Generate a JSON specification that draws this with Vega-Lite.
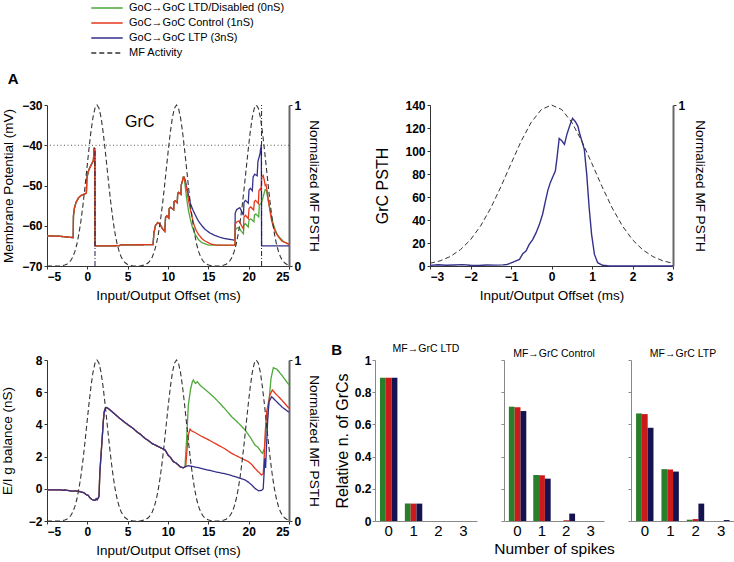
{
"$schema": "https://vega.github.io/schema/vega-lite/v6.json",
"padding": {"left": 0, "top": 2, "right": 1, "bottom": 1},
"config": {
  "font": "Liberation Sans",
  "view": {"stroke": null},
  "axis": {"grid": false, "labelFont": "Liberation Sans", "labelFontSize": 12, "labelFontWeight": "bold", "labelColor": "#000", "titleFont": "Liberation Sans", "titleFontSize": 13.5, "titleFontWeight": "normal", "titleColor": "#000", "tickSize": 3, "tickColor": "#333", "domainColor": "#333", "labelPadding": 2},
  "title": {"font": "Liberation Sans", "color": "#000"}
},
"datasets": {
  "mem": [
    {"t":-5,"v":-62.5,"s":"LTP"},{"t":-3.5,"v":-62.6,"s":"LTP"},{"t":-1.75,"v":-62.95,"s":"LTP"},{"t":-1.72,"v":-57.5,"s":"LTP"},{"t":-1.6,"v":-55.6,"s":"LTP"},{"t":-1.4,"v":-54.2,"s":"LTP"},{"t":-1.1,"v":-53.1,"s":"LTP"},{"t":-0.8,"v":-52.5,"s":"LTP"},{"t":-0.45,"v":-52.2,"s":"LTP"},{"t":-0.12,"v":-51.9,"s":"LTP"},{"t":-0.06,"v":-48.3,"s":"LTP"},{"t":0.1,"v":-46.6,"s":"LTP"},{"t":0.3,"v":-45.6,"s":"LTP"},{"t":0.55,"v":-44.6,"s":"LTP"},{"t":0.75,"v":-43.8,"s":"LTP"},{"t":0.8,"v":-42.2,"s":"LTP"},{"t":0.84,"v":-40.6,"s":"LTP"},{"t":0.92,"v":-41.2,"s":"LTP"},{"t":0.95,"v":-65.0,"s":"LTP"},{"t":2.5,"v":-65.0,"s":"LTP"},{"t":4.0,"v":-64.95,"s":"LTP"},{"t":4.1,"v":-64.75,"s":"LTP"},{"t":8.15,"v":-64.7,"s":"LTP"},{"t":8.25,"v":-61.8,"s":"LTP"},{"t":8.45,"v":-59.9,"s":"LTP"},{"t":8.75,"v":-59.2,"s":"LTP"},{"t":9.0,"v":-59.6,"s":"LTP"},{"t":9.3,"v":-60.7,"s":"LTP"},{"t":9.6,"v":-61.4,"s":"LTP"},{"t":9.7,"v":-57.9,"s":"LTP"},{"t":9.85,"v":-57.5,"s":"LTP"},{"t":10.1,"v":-58.1,"s":"LTP"},{"t":10.15,"v":-55.7,"s":"LTP"},{"t":10.3,"v":-55.4,"s":"LTP"},{"t":10.7,"v":-56.0,"s":"LTP"},{"t":10.75,"v":-54.0,"s":"LTP"},{"t":10.9,"v":-53.8,"s":"LTP"},{"t":11.15,"v":-54.3,"s":"LTP"},{"t":11.2,"v":-52.0,"s":"LTP"},{"t":11.3,"v":-51.7,"s":"LTP"},{"t":11.6,"v":-52.2,"s":"LTP"},{"t":11.65,"v":-49.8,"s":"LTP"},{"t":11.75,"v":-49.2,"s":"LTP"},{"t":11.9,"v":-47.9,"s":"LTP"},{"t":12.0,"v":-47.9,"s":"LTP"},
    {"t":12.15,"v":-48.8,"s":"LTP"},{"t":12.3,"v":-50.3,"s":"LTP"},{"t":12.52,"v":-52.2,"s":"LTP"},{"t":12.8,"v":-54.6,"s":"LTP"},{"t":13.14,"v":-56.3,"s":"LTP"},{"t":13.5,"v":-57.8,"s":"LTP"},{"t":13.76,"v":-58.8,"s":"LTP"},{"t":14.2,"v":-60.0,"s":"LTP"},{"t":14.6,"v":-60.9,"s":"LTP"},{"t":15.2,"v":-61.8,"s":"LTP"},{"t":15.8,"v":-62.4,"s":"LTP"},{"t":16.5,"v":-62.9,"s":"LTP"},{"t":17.1,"v":-63.2,"s":"LTP"},{"t":18.3,"v":-63.6,"s":"LTP"},{"t":18.33,"v":-56.9,"s":"LTP"},{"t":18.5,"v":-56.0,"s":"LTP"},{"t":18.9,"v":-55.5,"s":"LTP"},{"t":19.15,"v":-56.5,"s":"LTP"},{"t":19.35,"v":-57.4,"s":"LTP"},{"t":19.42,"v":-54.2,"s":"LTP"},{"t":19.6,"v":-53.7,"s":"LTP"},{"t":19.95,"v":-54.4,"s":"LTP"},{"t":20.04,"v":-51.1,"s":"LTP"},{"t":20.2,"v":-50.7,"s":"LTP"},{"t":20.45,"v":-51.3,"s":"LTP"},{"t":20.55,"v":-47.9,"s":"LTP"},{"t":20.75,"v":-47.2,"s":"LTP"},{"t":21.05,"v":-47.6,"s":"LTP"},{"t":21.15,"v":-44.0,"s":"LTP"},{"t":21.3,"v":-42.9,"s":"LTP"},{"t":21.42,"v":-42.0,"s":"LTP"},{"t":21.47,"v":-41.0,"s":"LTP"},{"t":21.57,"v":-40.2,"s":"LTP"},{"t":21.6,"v":-65.0,"s":"LTP"},{"t":25,"v":-65.0,"s":"LTP"},

    {"t":-5,"v":-62.5,"s":"LTD"},{"t":-3.5,"v":-62.6,"s":"LTD"},{"t":-1.75,"v":-62.95,"s":"LTD"},{"t":-1.72,"v":-57.5,"s":"LTD"},{"t":-1.6,"v":-55.6,"s":"LTD"},{"t":-1.4,"v":-54.2,"s":"LTD"},{"t":-1.1,"v":-53.1,"s":"LTD"},{"t":-0.8,"v":-52.5,"s":"LTD"},{"t":-0.45,"v":-52.2,"s":"LTD"},{"t":-0.12,"v":-51.9,"s":"LTD"},{"t":-0.06,"v":-48.3,"s":"LTD"},{"t":0.1,"v":-46.6,"s":"LTD"},{"t":0.3,"v":-45.6,"s":"LTD"},{"t":0.55,"v":-44.6,"s":"LTD"},{"t":0.75,"v":-43.8,"s":"LTD"},{"t":0.8,"v":-42.2,"s":"LTD"},{"t":0.84,"v":-40.6,"s":"LTD"},{"t":0.92,"v":-41.2,"s":"LTD"},{"t":0.95,"v":-65.0,"s":"LTD"},{"t":2.5,"v":-65.0,"s":"LTD"},{"t":4.0,"v":-64.95,"s":"LTD"},{"t":4.1,"v":-64.75,"s":"LTD"},{"t":8.15,"v":-64.7,"s":"LTD"},{"t":8.25,"v":-61.8,"s":"LTD"},{"t":8.45,"v":-59.9,"s":"LTD"},{"t":8.75,"v":-59.2,"s":"LTD"},{"t":9.0,"v":-59.6,"s":"LTD"},{"t":9.3,"v":-60.7,"s":"LTD"},{"t":9.6,"v":-61.4,"s":"LTD"},{"t":9.7,"v":-57.9,"s":"LTD"},{"t":9.85,"v":-57.5,"s":"LTD"},{"t":10.1,"v":-58.1,"s":"LTD"},{"t":10.15,"v":-55.7,"s":"LTD"},{"t":10.3,"v":-55.4,"s":"LTD"},{"t":10.7,"v":-56.0,"s":"LTD"},{"t":10.75,"v":-54.0,"s":"LTD"},{"t":10.9,"v":-53.8,"s":"LTD"},{"t":11.15,"v":-54.3,"s":"LTD"},{"t":11.2,"v":-52.0,"s":"LTD"},{"t":11.3,"v":-51.7,"s":"LTD"},{"t":11.6,"v":-52.2,"s":"LTD"},{"t":11.65,"v":-49.8,"s":"LTD"},{"t":11.75,"v":-49.2,"s":"LTD"},{"t":11.9,"v":-47.9,"s":"LTD"},{"t":12.0,"v":-47.9,"s":"LTD"},
    {"t":12.15,"v":-50.5,"s":"LTD"},{"t":12.3,"v":-53.0,"s":"LTD"},{"t":12.5,"v":-55.8,"s":"LTD"},{"t":12.75,"v":-58.2,"s":"LTD"},{"t":13.0,"v":-60.2,"s":"LTD"},{"t":13.35,"v":-62.1,"s":"LTD"},{"t":13.8,"v":-63.5,"s":"LTD"},{"t":14.2,"v":-64.2,"s":"LTD"},{"t":15.0,"v":-64.8,"s":"LTD"},{"t":18.3,"v":-64.9,"s":"LTD"},{"t":18.33,"v":-61.0,"s":"LTD"},{"t":18.6,"v":-60.5,"s":"LTD"},{"t":18.85,"v":-60.6,"s":"LTD"},{"t":19.1,"v":-61.4,"s":"LTD"},{"t":19.35,"v":-62.0,"s":"LTD"},{"t":19.42,"v":-59.8,"s":"LTD"},{"t":19.6,"v":-59.5,"s":"LTD"},{"t":19.95,"v":-60.3,"s":"LTD"},{"t":20.05,"v":-58.5,"s":"LTD"},{"t":20.25,"v":-58.3,"s":"LTD"},{"t":20.65,"v":-59.0,"s":"LTD"},{"t":20.72,"v":-57.3,"s":"LTD"},{"t":20.9,"v":-57.1,"s":"LTD"},{"t":21.25,"v":-57.8,"s":"LTD"},{"t":21.32,"v":-54.8,"s":"LTD"},{"t":21.55,"v":-54.4,"s":"LTD"},{"t":21.7,"v":-53.6,"s":"LTD"},{"t":21.85,"v":-52.4,"s":"LTD"},{"t":22.05,"v":-51.0,"s":"LTD"},{"t":22.2,"v":-51.2,"s":"LTD"},{"t":22.45,"v":-54.0,"s":"LTD"},{"t":22.75,"v":-57.0,"s":"LTD"},{"t":23.05,"v":-59.6,"s":"LTD"},{"t":23.4,"v":-61.6,"s":"LTD"},{"t":23.7,"v":-62.6,"s":"LTD"},{"t":24.3,"v":-63.9,"s":"LTD"},{"t":25,"v":-64.6,"s":"LTD"},

    {"t":-5,"v":-62.5,"s":"CTRL"},{"t":-3.5,"v":-62.6,"s":"CTRL"},{"t":-1.75,"v":-62.95,"s":"CTRL"},{"t":-1.72,"v":-57.5,"s":"CTRL"},{"t":-1.6,"v":-55.6,"s":"CTRL"},{"t":-1.4,"v":-54.2,"s":"CTRL"},{"t":-1.1,"v":-53.1,"s":"CTRL"},{"t":-0.8,"v":-52.5,"s":"CTRL"},{"t":-0.45,"v":-52.2,"s":"CTRL"},{"t":-0.12,"v":-51.9,"s":"CTRL"},{"t":-0.06,"v":-48.3,"s":"CTRL"},{"t":0.1,"v":-46.6,"s":"CTRL"},{"t":0.3,"v":-45.6,"s":"CTRL"},{"t":0.55,"v":-44.6,"s":"CTRL"},{"t":0.75,"v":-43.8,"s":"CTRL"},{"t":0.8,"v":-42.2,"s":"CTRL"},{"t":0.84,"v":-40.6,"s":"CTRL"},{"t":0.92,"v":-41.2,"s":"CTRL"},{"t":0.95,"v":-65.0,"s":"CTRL"},{"t":2.5,"v":-65.0,"s":"CTRL"},{"t":4.0,"v":-64.95,"s":"CTRL"},{"t":4.1,"v":-64.75,"s":"CTRL"},{"t":8.15,"v":-64.7,"s":"CTRL"},{"t":8.25,"v":-61.8,"s":"CTRL"},{"t":8.45,"v":-59.9,"s":"CTRL"},{"t":8.75,"v":-59.2,"s":"CTRL"},{"t":9.0,"v":-59.6,"s":"CTRL"},{"t":9.3,"v":-60.7,"s":"CTRL"},{"t":9.6,"v":-61.4,"s":"CTRL"},{"t":9.7,"v":-57.9,"s":"CTRL"},{"t":9.85,"v":-57.5,"s":"CTRL"},{"t":10.1,"v":-58.1,"s":"CTRL"},{"t":10.15,"v":-55.7,"s":"CTRL"},{"t":10.3,"v":-55.4,"s":"CTRL"},{"t":10.7,"v":-56.0,"s":"CTRL"},{"t":10.75,"v":-54.0,"s":"CTRL"},{"t":10.9,"v":-53.8,"s":"CTRL"},{"t":11.15,"v":-54.3,"s":"CTRL"},{"t":11.2,"v":-52.0,"s":"CTRL"},{"t":11.3,"v":-51.7,"s":"CTRL"},{"t":11.6,"v":-52.2,"s":"CTRL"},{"t":11.65,"v":-49.8,"s":"CTRL"},{"t":11.75,"v":-49.2,"s":"CTRL"},{"t":11.9,"v":-47.9,"s":"CTRL"},{"t":12.0,"v":-47.9,"s":"CTRL"},
    {"t":12.15,"v":-49.3,"s":"CTRL"},{"t":12.35,"v":-51.3,"s":"CTRL"},{"t":12.55,"v":-53.8,"s":"CTRL"},{"t":12.75,"v":-55.7,"s":"CTRL"},{"t":13.0,"v":-58.0,"s":"CTRL"},{"t":13.2,"v":-59.6,"s":"CTRL"},{"t":13.5,"v":-61.2,"s":"CTRL"},{"t":13.8,"v":-62.2,"s":"CTRL"},{"t":14.2,"v":-63.2,"s":"CTRL"},{"t":14.6,"v":-63.8,"s":"CTRL"},{"t":15.4,"v":-64.6,"s":"CTRL"},{"t":16.0,"v":-64.8,"s":"CTRL"},{"t":18.3,"v":-64.8,"s":"CTRL"},{"t":18.33,"v":-59.6,"s":"CTRL"},{"t":18.55,"v":-59.0,"s":"CTRL"},{"t":18.8,"v":-58.8,"s":"CTRL"},{"t":19.1,"v":-59.9,"s":"CTRL"},{"t":19.35,"v":-60.8,"s":"CTRL"},{"t":19.42,"v":-57.8,"s":"CTRL"},{"t":19.6,"v":-57.4,"s":"CTRL"},{"t":19.95,"v":-58.2,"s":"CTRL"},{"t":20.05,"v":-55.7,"s":"CTRL"},{"t":20.25,"v":-55.3,"s":"CTRL"},{"t":20.62,"v":-56.1,"s":"CTRL"},{"t":20.7,"v":-54.0,"s":"CTRL"},{"t":20.85,"v":-53.7,"s":"CTRL"},{"t":21.2,"v":-54.5,"s":"CTRL"},{"t":21.28,"v":-51.2,"s":"CTRL"},{"t":21.45,"v":-50.8,"s":"CTRL"},{"t":21.55,"v":-51.3,"s":"CTRL"},{"t":21.62,"v":-48.0,"s":"CTRL"},{"t":21.8,"v":-47.5,"s":"CTRL"},{"t":21.95,"v":-48.8,"s":"CTRL"},{"t":22.05,"v":-50.0,"s":"CTRL"},{"t":22.15,"v":-49.8,"s":"CTRL"},{"t":22.3,"v":-51.5,"s":"CTRL"},{"t":22.45,"v":-53.9,"s":"CTRL"},{"t":22.85,"v":-58.8,"s":"CTRL"},{"t":23.2,"v":-61.0,"s":"CTRL"},{"t":23.5,"v":-62.2,"s":"CTRL"},{"t":24.1,"v":-63.8,"s":"CTRL"},{"t":25,"v":-64.6,"s":"CTRL"}
  ],
  "mf": [
    {"t":-5,"m":0},{"t":-3.3,"m":0},{"t":-2.8,"m":0.006},{"t":-2.55,"m":0.011},{"t":-2.3,"m":0.02},{"t":-2.05,"m":0.034},{"t":-1.8,"m":0.056},{"t":-1.55,"m":0.089},{"t":-1.3,"m":0.135},{"t":-1.05,"m":0.198},{"t":-0.8,"m":0.278},{"t":-0.55,"m":0.375},{"t":-0.3,"m":0.487},{"t":-0.05,"m":0.607},{"t":0.2,"m":0.726},{"t":0.45,"m":0.835},{"t":0.7,"m":0.923},{"t":0.95,"m":0.98},{"t":1.2,"m":1},{"t":1.45,"m":0.98},{"t":1.7,"m":0.923},{"t":1.95,"m":0.835},{"t":2.2,"m":0.726},{"t":2.45,"m":0.607},{"t":2.7,"m":0.487},{"t":2.95,"m":0.375},{"t":3.2,"m":0.278},{"t":3.45,"m":0.198},{"t":3.7,"m":0.135},{"t":3.95,"m":0.089},{"t":4.2,"m":0.056},{"t":4.45,"m":0.034},{"t":4.7,"m":0.02},{"t":4.95,"m":0.011},{"t":5.2,"m":0.006},{"t":5.7,"m":0},
    {"t":6.55,"m":0},{"t":7.05,"m":0.006},{"t":7.3,"m":0.011},{"t":7.55,"m":0.02},{"t":7.8,"m":0.034},{"t":8.05,"m":0.056},{"t":8.3,"m":0.089},{"t":8.55,"m":0.135},{"t":8.8,"m":0.198},{"t":9.05,"m":0.278},{"t":9.3,"m":0.375},{"t":9.55,"m":0.487},{"t":9.8,"m":0.607},{"t":10.05,"m":0.726},{"t":10.3,"m":0.835},{"t":10.55,"m":0.923},{"t":10.8,"m":0.98},{"t":11.05,"m":1},{"t":11.3,"m":0.98},{"t":11.55,"m":0.923},{"t":11.8,"m":0.835},{"t":12.05,"m":0.726},{"t":12.3,"m":0.607},{"t":12.55,"m":0.487},{"t":12.8,"m":0.375},{"t":13.05,"m":0.278},{"t":13.3,"m":0.198},{"t":13.55,"m":0.135},{"t":13.8,"m":0.089},{"t":14.05,"m":0.056},{"t":14.3,"m":0.034},{"t":14.55,"m":0.02},{"t":14.8,"m":0.011},{"t":15.05,"m":0.006},{"t":15.55,"m":0},
    {"t":16.45,"m":0},{"t":16.95,"m":0.006},{"t":17.2,"m":0.011},{"t":17.45,"m":0.02},{"t":17.7,"m":0.034},{"t":17.95,"m":0.056},{"t":18.2,"m":0.089},{"t":18.45,"m":0.135},{"t":18.7,"m":0.198},{"t":18.95,"m":0.278},{"t":19.2,"m":0.375},{"t":19.45,"m":0.487},{"t":19.7,"m":0.607},{"t":19.95,"m":0.726},{"t":20.2,"m":0.835},{"t":20.45,"m":0.923},{"t":20.7,"m":0.98},{"t":20.95,"m":1},{"t":21.2,"m":0.98},{"t":21.45,"m":0.923},{"t":21.7,"m":0.835},{"t":21.95,"m":0.726},{"t":22.2,"m":0.607},{"t":22.45,"m":0.487},{"t":22.7,"m":0.375},{"t":22.95,"m":0.278},{"t":23.2,"m":0.198},{"t":23.45,"m":0.135},{"t":23.7,"m":0.089},{"t":23.95,"m":0.056},{"t":24.2,"m":0.034},{"t":24.45,"m":0.02},{"t":24.7,"m":0.011},{"t":24.95,"m":0.006},{"t":25,"m":0.005}
  ],
  "psth": [
    {"t":-3,"v":0.5},{"t":-2.8,"v":1.1},{"t":-2.6,"v":0.6},{"t":-2.4,"v":0.9},{"t":-2.2,"v":1.2},{"t":-2.0,"v":0.7},{"t":-1.8,"v":0.5},{"t":-1.6,"v":0.9},{"t":-1.4,"v":0.8},{"t":-1.2,"v":1.0},{"t":-1.1,"v":1.3},{"t":-1.04,"v":2},{"t":-0.92,"v":3.8},{"t":-0.79,"v":5.8},{"t":-0.71,"v":10.7},{"t":-0.63,"v":13},{"t":-0.55,"v":18.8},{"t":-0.465,"v":23},{"t":-0.38,"v":29},{"t":-0.3,"v":36},{"t":-0.22,"v":45},{"t":-0.15,"v":56.5},{"t":-0.09,"v":65.8},{"t":-0.03,"v":72.5},{"t":0.03,"v":77.4},{"t":0.095,"v":82.6},{"t":0.136,"v":94},{"t":0.19,"v":111},{"t":0.26,"v":108.7},{"t":0.32,"v":105.8},{"t":0.38,"v":114.5},{"t":0.46,"v":123},{"t":0.52,"v":128.4},{"t":0.59,"v":125.5},{"t":0.65,"v":121.7},{"t":0.7,"v":114.5},{"t":0.75,"v":108.7},{"t":0.81,"v":101.4},{"t":0.87,"v":79.7},{"t":0.93,"v":50.7},{"t":0.99,"v":27.5},{"t":1.06,"v":10.1},{"t":1.14,"v":2.9},{"t":1.26,"v":0.6},{"t":1.43,"v":0},{"t":3,"v":0}
  ],
  "mf2": [
    {"t":-3,"m":0.017},{"t":-2.75,"m":0.032},{"t":-2.5,"m":0.059},{"t":-2.25,"m":0.101},{"t":-2,"m":0.163},{"t":-1.75,"m":0.249},{"t":-1.5,"m":0.36},{"t":-1.25,"m":0.492},{"t":-1,"m":0.635},{"t":-0.75,"m":0.775},{"t":-0.5,"m":0.893},{"t":-0.25,"m":0.972},{"t":0,"m":1},{"t":0.25,"m":0.972},{"t":0.5,"m":0.893},{"t":0.75,"m":0.775},{"t":1,"m":0.635},{"t":1.25,"m":0.492},{"t":1.5,"m":0.36},{"t":1.75,"m":0.249},{"t":2,"m":0.163},{"t":2.25,"m":0.101},{"t":2.5,"m":0.059},{"t":2.75,"m":0.032},{"t":3,"m":0.017}
  ],
  "ei": [
    {"t":-5,"v":-0.07,"s":"LTD"},{"t":-3.3,"v":-0.07,"s":"LTD"},{"t":-2.9,"v":-0.1,"s":"LTD"},{"t":-2.8,"v":-0.07,"s":"LTD"},{"t":-2.2,"v":-0.12,"s":"LTD"},{"t":-1.9,"v":-0.15,"s":"LTD"},{"t":-1.5,"v":-0.13,"s":"LTD"},{"t":-1.1,"v":-0.16,"s":"LTD"},{"t":-0.7,"v":-0.2,"s":"LTD"},{"t":-0.4,"v":-0.25,"s":"LTD"},{"t":-0.1,"v":-0.38,"s":"LTD"},{"t":0.1,"v":-0.4,"s":"LTD"},{"t":0.3,"v":-0.55,"s":"LTD"},{"t":0.55,"v":-0.65,"s":"LTD"},{"t":0.75,"v":-0.7,"s":"LTD"},{"t":0.95,"v":-0.72,"s":"LTD"},{"t":1.1,"v":-0.62,"s":"LTD"},{"t":1.2,"v":-0.68,"s":"LTD"},{"t":1.35,"v":-0.58,"s":"LTD"},{"t":1.45,"v":-0.45,"s":"LTD"},{"t":1.55,"v":1.0,"s":"LTD"},{"t":1.7,"v":2.1,"s":"LTD"},{"t":1.85,"v":3.2,"s":"LTD"},{"t":1.98,"v":4.2,"s":"LTD"},{"t":2.1,"v":4.8,"s":"LTD"},{"t":2.25,"v":5.02,"s":"LTD"},{"t":2.4,"v":5.05,"s":"LTD"},{"t":2.6,"v":4.98,"s":"LTD"},{"t":3.0,"v":4.82,"s":"LTD"},{"t":3.5,"v":4.6,"s":"LTD"},{"t":4.0,"v":4.38,"s":"LTD"},{"t":4.5,"v":4.18,"s":"LTD"},{"t":5.08,"v":3.96,"s":"LTD"},{"t":5.6,"v":3.78,"s":"LTD"},{"t":6.2,"v":3.52,"s":"LTD"},{"t":6.6,"v":3.38,"s":"LTD"},{"t":7.15,"v":3.13,"s":"LTD"},{"t":7.6,"v":2.98,"s":"LTD"},{"t":8.0,"v":2.82,"s":"LTD"},{"t":8.5,"v":2.7,"s":"LTD"},{"t":8.8,"v":2.62,"s":"LTD"},{"t":9.3,"v":2.5,"s":"LTD"},{"t":9.63,"v":2.41,"s":"LTD"},{"t":9.75,"v":2.32,"s":"LTD"},{"t":10.0,"v":2.1,"s":"LTD"},{"t":10.3,"v":1.95,"s":"LTD"},{"t":10.66,"v":1.69,"s":"LTD"},{"t":11.0,"v":1.6,"s":"LTD"},{"t":11.28,"v":1.48,"s":"LTD"},{"t":11.55,"v":1.35,"s":"LTD"},{"t":11.9,"v":1.31,"s":"LTD"},{"t":12.1,"v":1.36,"s":"LTD"},
    {"t":12.3,"v":3.0,"s":"LTD"},{"t":12.52,"v":5.2,"s":"LTD"},{"t":12.8,"v":6.2,"s":"LTD"},{"t":13.02,"v":6.65,"s":"LTD"},{"t":13.14,"v":6.76,"s":"LTD"},{"t":13.3,"v":6.6,"s":"LTD"},{"t":13.43,"v":6.55,"s":"LTD"},{"t":13.64,"v":6.65,"s":"LTD"},{"t":14.0,"v":6.42,"s":"LTD"},{"t":15.0,"v":6.0,"s":"LTD"},{"t":15.83,"v":5.62,"s":"LTD"},{"t":17.0,"v":5.0,"s":"LTD"},{"t":17.89,"v":4.48,"s":"LTD"},{"t":18.8,"v":4.05,"s":"LTD"},{"t":19.55,"v":3.65,"s":"LTD"},{"t":20.2,"v":3.2,"s":"LTD"},{"t":20.78,"v":2.72,"s":"LTD"},{"t":21.1,"v":2.6,"s":"LTD"},{"t":21.4,"v":2.41,"s":"LTD"},{"t":21.6,"v":2.25,"s":"LTD"},{"t":21.74,"v":2.2,"s":"LTD"},{"t":21.94,"v":2.51,"s":"LTD"},{"t":22.15,"v":3.55,"s":"LTD"},{"t":22.44,"v":5.0,"s":"LTD"},{"t":22.77,"v":6.86,"s":"LTD"},{"t":23.06,"v":7.52,"s":"LTD"},{"t":23.47,"v":7.44,"s":"LTD"},{"t":24.09,"v":7.07,"s":"LTD"},{"t":25,"v":6.45,"s":"LTD"},

    {"t":-5,"v":-0.07,"s":"CTRL"},{"t":-3.3,"v":-0.07,"s":"CTRL"},{"t":-2.9,"v":-0.1,"s":"CTRL"},{"t":-2.8,"v":-0.07,"s":"CTRL"},{"t":-2.2,"v":-0.12,"s":"CTRL"},{"t":-1.9,"v":-0.15,"s":"CTRL"},{"t":-1.5,"v":-0.13,"s":"CTRL"},{"t":-1.1,"v":-0.16,"s":"CTRL"},{"t":-0.7,"v":-0.2,"s":"CTRL"},{"t":-0.4,"v":-0.25,"s":"CTRL"},{"t":-0.1,"v":-0.38,"s":"CTRL"},{"t":0.1,"v":-0.4,"s":"CTRL"},{"t":0.3,"v":-0.55,"s":"CTRL"},{"t":0.55,"v":-0.65,"s":"CTRL"},{"t":0.75,"v":-0.7,"s":"CTRL"},{"t":0.95,"v":-0.72,"s":"CTRL"},{"t":1.1,"v":-0.62,"s":"CTRL"},{"t":1.2,"v":-0.68,"s":"CTRL"},{"t":1.35,"v":-0.58,"s":"CTRL"},{"t":1.45,"v":-0.45,"s":"CTRL"},{"t":1.55,"v":1.0,"s":"CTRL"},{"t":1.7,"v":2.1,"s":"CTRL"},{"t":1.85,"v":3.2,"s":"CTRL"},{"t":1.98,"v":4.2,"s":"CTRL"},{"t":2.1,"v":4.8,"s":"CTRL"},{"t":2.25,"v":5.02,"s":"CTRL"},{"t":2.4,"v":5.05,"s":"CTRL"},{"t":2.6,"v":4.98,"s":"CTRL"},{"t":3.0,"v":4.82,"s":"CTRL"},{"t":3.5,"v":4.6,"s":"CTRL"},{"t":4.0,"v":4.38,"s":"CTRL"},{"t":4.5,"v":4.18,"s":"CTRL"},{"t":5.08,"v":3.96,"s":"CTRL"},{"t":5.6,"v":3.78,"s":"CTRL"},{"t":6.2,"v":3.52,"s":"CTRL"},{"t":6.6,"v":3.38,"s":"CTRL"},{"t":7.15,"v":3.13,"s":"CTRL"},{"t":7.6,"v":2.98,"s":"CTRL"},{"t":8.0,"v":2.82,"s":"CTRL"},{"t":8.5,"v":2.7,"s":"CTRL"},{"t":8.8,"v":2.62,"s":"CTRL"},{"t":9.3,"v":2.5,"s":"CTRL"},{"t":9.63,"v":2.41,"s":"CTRL"},{"t":9.75,"v":2.32,"s":"CTRL"},{"t":10.0,"v":2.1,"s":"CTRL"},{"t":10.3,"v":1.95,"s":"CTRL"},{"t":10.66,"v":1.69,"s":"CTRL"},{"t":11.0,"v":1.6,"s":"CTRL"},{"t":11.28,"v":1.48,"s":"CTRL"},{"t":11.55,"v":1.35,"s":"CTRL"},{"t":11.9,"v":1.31,"s":"CTRL"},{"t":12.1,"v":1.36,"s":"CTRL"},
    {"t":12.2,"v":1.4,"s":"CTRL"},{"t":12.35,"v":2.4,"s":"CTRL"},{"t":12.52,"v":3.34,"s":"CTRL"},{"t":12.73,"v":3.71,"s":"CTRL"},{"t":12.9,"v":3.6,"s":"CTRL"},{"t":13.14,"v":3.55,"s":"CTRL"},{"t":14.0,"v":3.3,"s":"CTRL"},{"t":15.0,"v":3.05,"s":"CTRL"},{"t":15.83,"v":2.82,"s":"CTRL"},{"t":17.0,"v":2.5,"s":"CTRL"},{"t":17.89,"v":2.2,"s":"CTRL"},{"t":19.0,"v":1.92,"s":"CTRL"},{"t":19.96,"v":1.69,"s":"CTRL"},{"t":20.4,"v":1.5,"s":"CTRL"},{"t":20.78,"v":1.27,"s":"CTRL"},{"t":21.1,"v":1.1,"s":"CTRL"},{"t":21.4,"v":0.96,"s":"CTRL"},{"t":21.6,"v":0.86,"s":"CTRL"},{"t":21.8,"v":0.92,"s":"CTRL"},{"t":21.94,"v":2.1,"s":"CTRL"},{"t":22.05,"v":3.5,"s":"CTRL"},{"t":22.23,"v":4.79,"s":"CTRL"},{"t":22.64,"v":5.83,"s":"CTRL"},{"t":22.93,"v":6.14,"s":"CTRL"},{"t":23.26,"v":5.95,"s":"CTRL"},{"t":24.09,"v":5.52,"s":"CTRL"},{"t":25,"v":5.0,"s":"CTRL"},

    {"t":-5,"v":-0.07,"s":"LTP"},{"t":-3.3,"v":-0.07,"s":"LTP"},{"t":-2.9,"v":-0.1,"s":"LTP"},{"t":-2.8,"v":-0.07,"s":"LTP"},{"t":-2.2,"v":-0.12,"s":"LTP"},{"t":-1.9,"v":-0.15,"s":"LTP"},{"t":-1.5,"v":-0.13,"s":"LTP"},{"t":-1.1,"v":-0.16,"s":"LTP"},{"t":-0.7,"v":-0.2,"s":"LTP"},{"t":-0.4,"v":-0.25,"s":"LTP"},{"t":-0.1,"v":-0.38,"s":"LTP"},{"t":0.1,"v":-0.4,"s":"LTP"},{"t":0.3,"v":-0.55,"s":"LTP"},{"t":0.55,"v":-0.65,"s":"LTP"},{"t":0.75,"v":-0.7,"s":"LTP"},{"t":0.95,"v":-0.72,"s":"LTP"},{"t":1.1,"v":-0.62,"s":"LTP"},{"t":1.2,"v":-0.68,"s":"LTP"},{"t":1.35,"v":-0.58,"s":"LTP"},{"t":1.45,"v":-0.45,"s":"LTP"},{"t":1.55,"v":1.0,"s":"LTP"},{"t":1.7,"v":2.1,"s":"LTP"},{"t":1.85,"v":3.2,"s":"LTP"},{"t":1.98,"v":4.2,"s":"LTP"},{"t":2.1,"v":4.8,"s":"LTP"},{"t":2.25,"v":5.02,"s":"LTP"},{"t":2.4,"v":5.05,"s":"LTP"},{"t":2.6,"v":4.98,"s":"LTP"},{"t":3.0,"v":4.82,"s":"LTP"},{"t":3.5,"v":4.6,"s":"LTP"},{"t":4.0,"v":4.38,"s":"LTP"},{"t":4.5,"v":4.18,"s":"LTP"},{"t":5.08,"v":3.96,"s":"LTP"},{"t":5.6,"v":3.78,"s":"LTP"},{"t":6.2,"v":3.52,"s":"LTP"},{"t":6.6,"v":3.38,"s":"LTP"},{"t":7.15,"v":3.13,"s":"LTP"},{"t":7.6,"v":2.98,"s":"LTP"},{"t":8.0,"v":2.82,"s":"LTP"},{"t":8.5,"v":2.7,"s":"LTP"},{"t":8.8,"v":2.62,"s":"LTP"},{"t":9.3,"v":2.5,"s":"LTP"},{"t":9.63,"v":2.41,"s":"LTP"},{"t":9.75,"v":2.32,"s":"LTP"},{"t":10.0,"v":2.1,"s":"LTP"},{"t":10.3,"v":1.95,"s":"LTP"},{"t":10.66,"v":1.69,"s":"LTP"},{"t":11.0,"v":1.6,"s":"LTP"},{"t":11.28,"v":1.48,"s":"LTP"},{"t":11.55,"v":1.35,"s":"LTP"},{"t":11.9,"v":1.31,"s":"LTP"},{"t":12.1,"v":1.36,"s":"LTP"},
    {"t":12.52,"v":1.44,"s":"LTP"},{"t":13.76,"v":1.31,"s":"LTP"},{"t":15.0,"v":1.16,"s":"LTP"},{"t":15.83,"v":1.06,"s":"LTP"},{"t":17.0,"v":0.94,"s":"LTP"},{"t":17.89,"v":0.82,"s":"LTP"},{"t":18.8,"v":0.68,"s":"LTP"},{"t":19.55,"v":0.55,"s":"LTP"},{"t":20.0,"v":0.4,"s":"LTP"},{"t":20.37,"v":0.24,"s":"LTP"},{"t":20.78,"v":0.03,"s":"LTP"},{"t":21.2,"v":-0.12,"s":"LTP"},{"t":21.6,"v":-0.1,"s":"LTP"},{"t":21.8,"v":0.0,"s":"LTP"},{"t":21.94,"v":1.2,"s":"LTP"},{"t":22.0,"v":1.9,"s":"LTP"},{"t":22.1,"v":1.3,"s":"LTP"},{"t":22.2,"v":2.5,"s":"LTP"},{"t":22.35,"v":4.2,"s":"LTP"},{"t":22.52,"v":5.41,"s":"LTP"},{"t":22.85,"v":5.72,"s":"LTP"},{"t":23.47,"v":5.41,"s":"LTP"},{"t":24.09,"v":5.1,"s":"LTP"},{"t":25,"v":4.75,"s":"LTP"}
  ],
  "vlines": [{"t":0.95,"a":-70,"b":-40.6},{"t":21.6,"a":-70,"b":-30}],
  "hline": [{"v":-40}],
  "label": [{"t":6.5,"v":-34.2,"txt":"GrC"}],
  "bars": [
    {"p":"LTD","k":0,"c":"g","v":0.89},{"p":"LTD","k":0,"c":"r","v":0.89},{"p":"LTD","k":0,"c":"b","v":0.89},
    {"p":"LTD","k":1,"c":"g","v":0.108},{"p":"LTD","k":1,"c":"r","v":0.108},{"p":"LTD","k":1,"c":"b","v":0.108},
    {"p":"LTD","k":2,"c":"g","v":0},{"p":"LTD","k":2,"c":"r","v":0},{"p":"LTD","k":2,"c":"b","v":0},
    {"p":"LTD","k":3,"c":"g","v":0},{"p":"LTD","k":3,"c":"r","v":0},{"p":"LTD","k":3,"c":"b","v":0},
    {"p":"CTRL","k":0,"c":"g","v":0.71},{"p":"CTRL","k":0,"c":"r","v":0.707},{"p":"CTRL","k":0,"c":"b","v":0.683},
    {"p":"CTRL","k":1,"c":"g","v":0.286},{"p":"CTRL","k":1,"c":"r","v":0.284},{"p":"CTRL","k":1,"c":"b","v":0.263},
    {"p":"CTRL","k":2,"c":"g","v":0},{"p":"CTRL","k":2,"c":"r","v":0.004},{"p":"CTRL","k":2,"c":"b","v":0.046},
    {"p":"CTRL","k":3,"c":"g","v":0},{"p":"CTRL","k":3,"c":"r","v":0},{"p":"CTRL","k":3,"c":"b","v":0},
    {"p":"LTP","k":0,"c":"g","v":0.668},{"p":"LTP","k":0,"c":"r","v":0.664},{"p":"LTP","k":0,"c":"b","v":0.579},
    {"p":"LTP","k":1,"c":"g","v":0.322},{"p":"LTP","k":1,"c":"r","v":0.32},{"p":"LTP","k":1,"c":"b","v":0.307},
    {"p":"LTP","k":2,"c":"g","v":0.008},{"p":"LTP","k":2,"c":"r","v":0.012},{"p":"LTP","k":2,"c":"b","v":0.108},
    {"p":"LTP","k":3,"c":"g","v":0},{"p":"LTP","k":3,"c":"r","v":0},{"p":"LTP","k":3,"c":"b","v":0.006}
  ]
},
"spacing": 40,
"vconcat": [
  {
    "title": {"text": "A", "anchor": "start", "fontSize": 15, "fontWeight": "bold", "dx": 6, "offset": 12},
    "spacing": 53,
    "hconcat": [
      {
        "width": 242, "height": 161,
        "layer": [
          {
            "layer": [
              {
                "data": {"name": "mem"},
                "mark": {"type": "line", "strokeWidth": 1.3},
                "encoding": {
                  "x": {"field": "t", "type": "quantitative", "scale": {"domain": [-5, 25], "nice": false}, "axis": {"values": [-5,0,5,10,15,20,25], "title": "Input/Output Offset (ms)", "titlePadding": 6}},
                  "y": {"field": "v", "type": "quantitative", "scale": {"domain": [-70, -30], "nice": false, "zero": false}, "axis": {"values": [-70,-60,-50,-40,-30], "title": "Membrane Potential (mV)", "titlePadding": 6}},
                  "color": {"field": "s", "type": "nominal", "scale": {"domain": ["LTD","CTRL","LTP","MF"], "range": ["#4ea83a","#e4381e","#35318a","#333333"]},
                    "legend": {"title": null, "orient": "none", "legendX": 54, "legendY": -103, "symbolType": "M-3,0H3", "symbolSize": 110, "symbolStrokeWidth": 1.4, "labelFont": "Liberation Sans", "labelFontSize": 11, "labelColor": "#000", "labelOffset": 16, "rowPadding": 4,
                      "labelExpr": "datum.label === 'LTD' ? 'GoC→GoC LTD/Disabled (0nS)' : datum.label === 'CTRL' ? 'GoC→GoC Control (1nS)' : datum.label === 'LTP' ? 'GoC→GoC LTP (3nS)' : 'MF Activity'"}},
                  "strokeDash": {"field": "s", "type": "nominal", "scale": {"domain": ["LTD","CTRL","LTP","MF"], "range": [[1,0],[1,0],[1,0],[5,3]]},
                    "legend": {"title": null, "orient": "none", "legendX": 54, "legendY": -103, "symbolType": "M-3,0H3", "symbolSize": 110, "symbolStrokeWidth": 1.4, "labelFont": "Liberation Sans", "labelFontSize": 11, "labelColor": "#000", "labelOffset": 16, "rowPadding": 4,
                      "labelExpr": "datum.label === 'LTD' ? 'GoC→GoC LTD/Disabled (0nS)' : datum.label === 'CTRL' ? 'GoC→GoC Control (1nS)' : datum.label === 'LTP' ? 'GoC→GoC LTP (3nS)' : 'MF Activity'"}}
                }
              },
              {
                "data": {"name": "hline"},
                "mark": {"type": "rule", "strokeDash": [1, 2.5], "color": "#555", "strokeWidth": 1},
                "encoding": {"y": {"field": "v", "type": "quantitative", "axis": {"values": [-70,-60,-50,-40,-30], "title": "Membrane Potential (mV)", "titlePadding": 6}}}
              },
              {
                "data": {"name": "vlines"},
                "mark": {"type": "rule", "strokeDash": [5, 2, 1, 2], "color": "#1e1e50", "strokeWidth": 1},
                "encoding": {
                  "x": {"field": "t", "type": "quantitative", "axis": {"values": [-5,0,5,10,15,20,25], "title": "Input/Output Offset (ms)", "titlePadding": 6}},
                  "y": {"field": "a", "type": "quantitative", "axis": {"values": [-70,-60,-50,-40,-30], "title": "Membrane Potential (mV)", "titlePadding": 6}},
                  "y2": {"field": "b"}
                }
              },
              {
                "data": {"name": "label"},
                "mark": {"type": "text", "fontSize": 16, "font": "Liberation Sans", "color": "#000"},
                "encoding": {
                  "x": {"field": "t", "type": "quantitative", "axis": {"values": [-5,0,5,10,15,20,25], "title": "Input/Output Offset (ms)", "titlePadding": 6}},
                  "y": {"field": "v", "type": "quantitative", "axis": {"values": [-70,-60,-50,-40,-30], "title": "Membrane Potential (mV)", "titlePadding": 6}},
                  "text": {"field": "txt"}
                }
              }
            ]
          },
          {
            "data": {"name": "mf"},
            "mark": {"type": "line", "strokeWidth": 1.1},
            "encoding": {
              "x": {"field": "t", "type": "quantitative", "axis": {"values": [-5,0,5,10,15,20,25], "title": "Input/Output Offset (ms)", "titlePadding": 6}},
              "y": {"field": "m", "type": "quantitative", "scale": {"domain": [0, 1], "nice": false}, "axis": {"orient": "right", "values": [0, 1], "format": "d", "title": "Normalized MF PSTH", "titlePadding": 6, "domainColor": "#666", "domainWidth": 2}},
              "color": {"datum": "MF", "type": "nominal", "scale": {"domain": ["LTD","CTRL","LTP","MF"], "range": ["#4ea83a","#e4381e","#35318a","#333333"]}},
              "strokeDash": {"datum": "MF", "type": "nominal", "scale": {"domain": ["LTD","CTRL","LTP","MF"], "range": [[1,0],[1,0],[1,0],[5,3]]}}
            }
          }
        ],
        "resolve": {"scale": {"y": "independent"}}
      },
      {
        "width": 243, "height": 161,
        "layer": [
          {
            "data": {"name": "psth"},
            "mark": {"type": "line", "strokeWidth": 1.4, "color": "#35318a"},
            "encoding": {
              "x": {"field": "t", "type": "quantitative", "scale": {"domain": [-3, 3], "nice": false}, "axis": {"values": [-3,-2,-1,0,1,2,3], "title": "Input/Output Offset (ms)", "titlePadding": 6}},
              "y": {"field": "v", "type": "quantitative", "scale": {"domain": [0, 140], "nice": false}, "axis": {"values": [0,20,40,60,80,100,120,140], "title": "GrC PSTH", "titleFontSize": 16, "titlePadding": 14}}
            }
          },
          {
            "data": {"name": "mf2"},
            "mark": {"type": "line", "strokeWidth": 1, "color": "#333", "strokeDash": [5, 3]},
            "encoding": {
              "x": {"field": "t", "type": "quantitative", "axis": {"values": [-3,-2,-1,0,1,2,3], "title": "Input/Output Offset (ms)", "titlePadding": 6}},
              "y": {"field": "m", "type": "quantitative", "scale": {"domain": [0, 1], "nice": false}, "axis": {"orient": "right", "values": [1], "format": "d", "title": "Normalized MF PSTH", "titlePadding": 8, "domainColor": "#666", "domainWidth": 2}}
            }
          }
        ],
        "resolve": {"scale": {"y": "independent"}}
      }
    ]
  },
  {
    "title": {"text": "B", "anchor": "start", "fontSize": 15, "fontWeight": "bold", "dx": 331, "dy": 14, "offset": 0},
    "bounds": "flush",
    "spacing": 86,
    "hconcat": [
      {
        "width": 242, "height": 161,
        "layer": [
          {
            "data": {"name": "ei"},
            "mark": {"type": "line", "strokeWidth": 1.3},
            "encoding": {
              "x": {"field": "t", "type": "quantitative", "scale": {"domain": [-5, 25], "nice": false}, "axis": {"values": [-5,0,5,10,15,20,25], "title": "Input/Output Offset (ms)", "titlePadding": 6}},
              "y": {"field": "v", "type": "quantitative", "scale": {"domain": [-2, 8], "nice": false}, "axis": {"values": [-2,0,2,4,6,8], "title": "E/I g balance (nS)", "titlePadding": 14}},
              "color": {"field": "s", "type": "nominal", "scale": {"domain": ["LTD","CTRL","LTP","MF"], "range": ["#4ea83a","#e4381e","#35318a","#333333"]},
                "legend": {"title": null, "orient": "none", "legendX": 54, "legendY": -103, "symbolType": "M-3,0H3", "symbolSize": 110, "symbolStrokeWidth": 1.4, "labelFont": "Liberation Sans", "labelFontSize": 11, "labelColor": "#000", "labelOffset": 16, "rowPadding": 4,
                  "labelExpr": "datum.label === 'LTD' ? 'GoC→GoC LTD/Disabled (0nS)' : datum.label === 'CTRL' ? 'GoC→GoC Control (1nS)' : datum.label === 'LTP' ? 'GoC→GoC LTP (3nS)' : 'MF Activity'"}},
              "strokeDash": {"field": "s", "type": "nominal", "scale": {"domain": ["LTD","CTRL","LTP","MF"], "range": [[1,0],[1,0],[1,0],[5,3]]},
                "legend": {"title": null, "orient": "none", "legendX": 54, "legendY": -103, "symbolType": "M-3,0H3", "symbolSize": 110, "symbolStrokeWidth": 1.4, "labelFont": "Liberation Sans", "labelFontSize": 11, "labelColor": "#000", "labelOffset": 16, "rowPadding": 4,
                  "labelExpr": "datum.label === 'LTD' ? 'GoC→GoC LTD/Disabled (0nS)' : datum.label === 'CTRL' ? 'GoC→GoC Control (1nS)' : datum.label === 'LTP' ? 'GoC→GoC LTP (3nS)' : 'MF Activity'"}}
            }
          },
          {
            "data": {"name": "mf"},
            "mark": {"type": "line", "strokeWidth": 1.1},
            "encoding": {
              "x": {"field": "t", "type": "quantitative", "axis": {"values": [-5,0,5,10,15,20,25], "title": "Input/Output Offset (ms)", "titlePadding": 6}},
              "y": {"field": "m", "type": "quantitative", "scale": {"domain": [0, 1], "nice": false}, "axis": {"orient": "right", "values": [0, 1], "format": "d", "title": "Normalized MF PSTH", "titlePadding": 6, "domainColor": "#666", "domainWidth": 2}},
              "color": {"datum": "MF", "type": "nominal", "scale": {"domain": ["LTD","CTRL","LTP","MF"], "range": ["#4ea83a","#e4381e","#35318a","#333333"]}},
              "strokeDash": {"datum": "MF", "type": "nominal", "scale": {"domain": ["LTD","CTRL","LTP","MF"], "range": [[1,0],[1,0],[1,0],[5,3]]}}
            }
          }
        ],
        "resolve": {"scale": {"y": "independent"}}
      },
      {
        "bounds": "flush",
        "spacing": 27,
        "hconcat": [
          {
            "width": 102, "height": 161,
            "title": {"text": "MF→GrC LTD", "fontSize": 10.5, "fontWeight": "normal", "offset": 0},
            "data": {"name": "bars"},
            "transform": [{"filter": "datum.p === 'LTD'"}],
            "mark": {"type": "bar"},
            "encoding": {
              "x": {"field": "k", "type": "ordinal", "scale": {"domain": [0,1,2,3], "paddingInner": 0.3, "paddingOuter": 0.2}, "axis": {"title": null, "labelAngle": 0, "ticks": false, "labelFontSize": 15, "labelFontWeight": "normal", "labelPadding": 2, "domainColor": "#888"}},
              "xOffset": {"field": "c", "type": "nominal", "scale": {"domain": ["g","r","b"]}},
              "y": {"field": "v", "type": "quantitative", "scale": {"domain": [0, 1], "nice": false}, "axis": {"values": [0,0.2,0.4,0.6,0.8,1], "format": "~g", "title": "Relative n. of GrCs", "titleFontSize": 16, "titlePadding": 4, "domainColor": "#888", "tickColor": "#888", "labelPadding": 1}},
              "fill": {"field": "c", "type": "nominal", "scale": {"domain": ["g","r","b"], "range": ["#2a7d2a","#cc1a1a","#14124f"]}, "legend": null}
            }
          },
          {
            "width": 100, "height": 161,
            "title": {"text": "MF→GrC Control", "fontSize": 10.5, "fontWeight": "normal", "offset": 0},
            "data": {"name": "bars"},
            "transform": [{"filter": "datum.p === 'CTRL'"}],
            "mark": {"type": "bar"},
            "encoding": {
              "x": {"field": "k", "type": "ordinal", "scale": {"domain": [0,1,2,3], "paddingInner": 0.3, "paddingOuter": 0.2}, "axis": {"title": "Number of spikes", "titleFontSize": 15.5, "titlePadding": 3, "labelAngle": 0, "ticks": false, "labelFontSize": 15, "labelFontWeight": "normal", "labelPadding": 2, "domainColor": "#888"}},
              "xOffset": {"field": "c", "type": "nominal", "scale": {"domain": ["g","r","b"]}},
              "y": {"field": "v", "type": "quantitative", "scale": {"domain": [0, 1], "nice": false}, "axis": {"values": [0,0.2,0.4,0.6,0.8,1], "title": null, "labels": false, "domainColor": "#888", "tickColor": "#888"}},
              "fill": {"field": "c", "type": "nominal", "scale": {"domain": ["g","r","b"], "range": ["#2a7d2a","#cc1a1a","#14124f"]}, "legend": null}
            }
          },
          {
            "width": 104, "height": 161,
            "title": {"text": "MF→GrC LTP", "fontSize": 10.5, "fontWeight": "normal", "offset": 0},
            "data": {"name": "bars"},
            "transform": [{"filter": "datum.p === 'LTP'"}],
            "mark": {"type": "bar"},
            "encoding": {
              "x": {"field": "k", "type": "ordinal", "scale": {"domain": [0,1,2,3], "paddingInner": 0.3, "paddingOuter": 0.2}, "axis": {"title": null, "labelAngle": 0, "ticks": false, "labelFontSize": 15, "labelFontWeight": "normal", "labelPadding": 2, "domainColor": "#888"}},
              "xOffset": {"field": "c", "type": "nominal", "scale": {"domain": ["g","r","b"]}},
              "y": {"field": "v", "type": "quantitative", "scale": {"domain": [0, 1], "nice": false}, "axis": {"values": [0,0.2,0.4,0.6,0.8,1], "title": null, "labels": false, "domainColor": "#888", "tickColor": "#888"}},
              "fill": {"field": "c", "type": "nominal", "scale": {"domain": ["g","r","b"], "range": ["#2a7d2a","#cc1a1a","#14124f"]}, "legend": null}
            }
          }
        ]
      }
    ]
  }
]
}
